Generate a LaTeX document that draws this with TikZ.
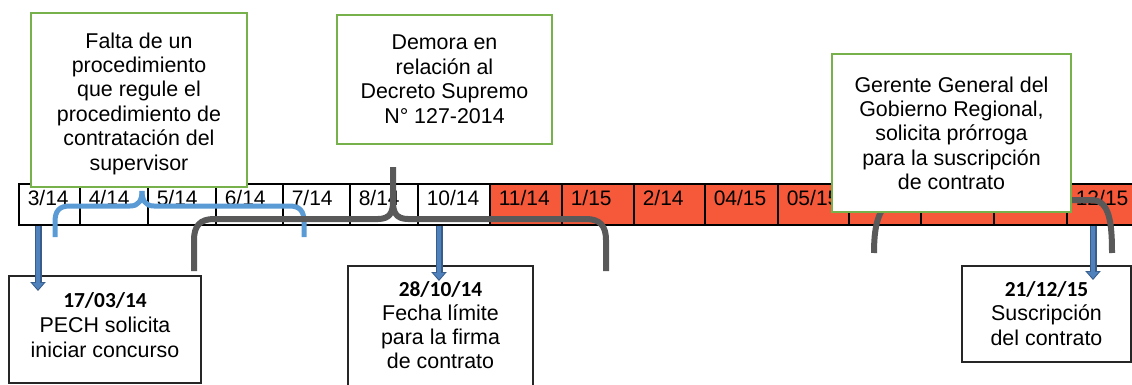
\documentclass[tikz,border=0pt]{standalone}
\usepackage{fontspec}
\setmainfont{Liberation Sans}
\newfontfamily\datefont{Carlito}
\usetikzlibrary{arrows.meta}
\definecolor{boxgreen}{RGB}{119,177,76}
\definecolor{cellred}{RGB}{246,88,58}
\definecolor{bracegray}{RGB}{89,89,89}
\definecolor{braceblue}{RGB}{91,155,213}
\definecolor{arrowblue}{RGB}{79,129,189}
\definecolor{arrowedge}{RGB}{56,93,138}
\tikzset{
 cell/.style={draw=black, line width=1.6pt, inner xsep=9pt, inner ysep=0pt, text height=22pt, text depth=19pt, anchor=north west, align=left, font=\fontsize{21}{25}\selectfont},
 note/.style={draw=boxgreen, line width=2.4pt, fill=white, inner sep=0pt, align=center, font=\fontsize{21.4}{24.4}\selectfont},
 event/.style={draw=black!85, line width=1.3pt, fill=white, inner sep=0pt, align=center},
 bluebrace/.style={draw=braceblue, line width=5pt, line join=round},
 graybrace/.style={draw=bracegray, line width=6pt, line join=round},
 arrowout/.style={draw=arrowedge, line width=7pt, -{Triangle[width=15pt,length=9pt]}},
 arrowin/.style={draw=arrowblue, line width=4.4pt, -{Triangle[width=11pt,length=6.5pt]}, shorten >=1.6pt},
}
\newcommand\tcell[5]{\pgfmathsetmacro\tcw{#3-#2-18}\node[cell,fill=#4,text width=\tcw pt] (#1) at (#2,183) {#5};}
\begin{document}
\begin{tikzpicture}[x=1pt,y=-1pt]
\useasboundingbox (0,0) rectangle (1132,385);
% timeline
\tcell{c1}{18}{79}{white}{3/14}
\tcell{c2}{79}{147}{white}{4/14}
\tcell{c3}{147}{215}{white}{5/14}
\tcell{c4}{215}{282}{white}{6/14}
\tcell{c5}{282}{349}{white}{7/14}
\tcell{c6}{349}{417}{white}{8/14}
\tcell{c7}{417}{489}{white}{10/14}
\tcell{c8}{489}{561}{cellred}{11/14}
\tcell{c9}{561}{633}{cellred}{1/15}
\tcell{c10}{633}{704}{cellred}{2/14}
\tcell{c11}{704}{777}{cellred}{04/15}
\tcell{c12}{777}{848}{cellred}{05/15}
\tcell{c13}{848}{920}{cellred}{}
\tcell{c14}{920}{993}{cellred}{}
\tcell{c15}{993}{1066}{cellred}{}
\tcell{c16}{1066}{1140}{cellred}{12/15}
% braces
\draw[bluebrace] (55,237) -- (55,222) .. controls (55,211) and (59,206) .. (70,206) -- (130,206) .. controls (139,206) and (142,200) .. (142,191);
\draw[bluebrace] (304,237) -- (304,222) .. controls (304,211) and (300,206) .. (289,206) -- (154,206) .. controls (145,206) and (142,200) .. (142,191);
\draw[graybrace] (194,271) -- (194,240) .. controls (194,226) and (200,219) .. (214,219) -- (378,219) .. controls (390,219) and (393,212) .. (393,202) -- (393,167);
\draw[graybrace] (606,271) -- (606,240) .. controls (606,226) and (600,219) .. (586,219) -- (408,219) .. controls (396,219) and (393,212) .. (393,202);
\draw[graybrace] (874,253) .. controls (874,230) and (877,205) .. (895,200) -- (978,200) .. controls (990,200) and (993,193) .. (993,185) -- (993,150);
\draw[graybrace] (1112,253) .. controls (1112,225) and (1110,200) .. (1092,200) -- (1008,200) .. controls (996,200) and (993,193) .. (993,185);
% event boxes
\node[event, minimum width=192pt, minimum height=107pt, font=\fontsize{21.4}{25}\selectfont] (evA) at (105,329.5)
 {\rule{0pt}{20pt}{\datefont\bfseries 17/03/14}\\PECH solicita\\iniciar concurso\rule[-15pt]{0pt}{15pt}};
\node[event, minimum width=185pt, minimum height=129pt, font=\fontsize{21.4}{24}\selectfont] (evB) at (440.5,330.5)
 {\rule{0pt}{20pt}{\datefont\bfseries 28/10/14}\\Fecha límite\\para la firma\\de contrato\rule[-17pt]{0pt}{17pt}};
\node[event, minimum width=169pt, minimum height=96pt, font=\fontsize{21.4}{24.5}\selectfont] (evC) at (1046.5,314)
 {\rule{0pt}{22pt}{\datefont\bfseries 21/12/15}\\Suscripción\\del contrato\rule[-9pt]{0pt}{9pt}};
% arrows
\coordinate (aTip) at (38,291);
\coordinate (bTip) at (439,281);
\coordinate (cTip) at (1093,280);
\draw[arrowout] (aTip |- c1.south) -- (aTip);
\draw[arrowin] (aTip |- c1.south) -- (aTip);
\draw[arrowout] (bTip |- c7.south) -- (bTip);
\draw[arrowin] (bTip |- c7.south) -- (bTip);
\draw[arrowout] (cTip |- c16.south) -- (cTip);
\draw[arrowin] (cTip |- c16.south) -- (cTip);
% notes
\node[note, minimum width=216pt, minimum height=174pt] (n1) at (139,100)
 {\rule{0pt}{24pt}Falta de un\\procedimiento\\que regule el\\procedimiento de\\contratación del\\supervisor\rule[-6pt]{0pt}{6pt}};
\node[note, minimum width=215pt, minimum height=129pt] (n2) at (444.5,79.5)
 {\rule{0pt}{22pt}Demora en\\relación al\\Decreto Supremo\\N° 127-2014\rule[-7.8pt]{0pt}{7.8pt}};
\node[note, minimum width=239pt, minimum height=158pt, font=\fontsize{21.4}{24.3}\selectfont] (n3) at (951.5,133)
 {\rule{0pt}{22pt}Gerente General del\\Gobierno Regional,\\solicita prórroga\\para la suscripción\\de contrato\rule[-6.4pt]{0pt}{6.4pt}};
\end{tikzpicture}
\end{document}
